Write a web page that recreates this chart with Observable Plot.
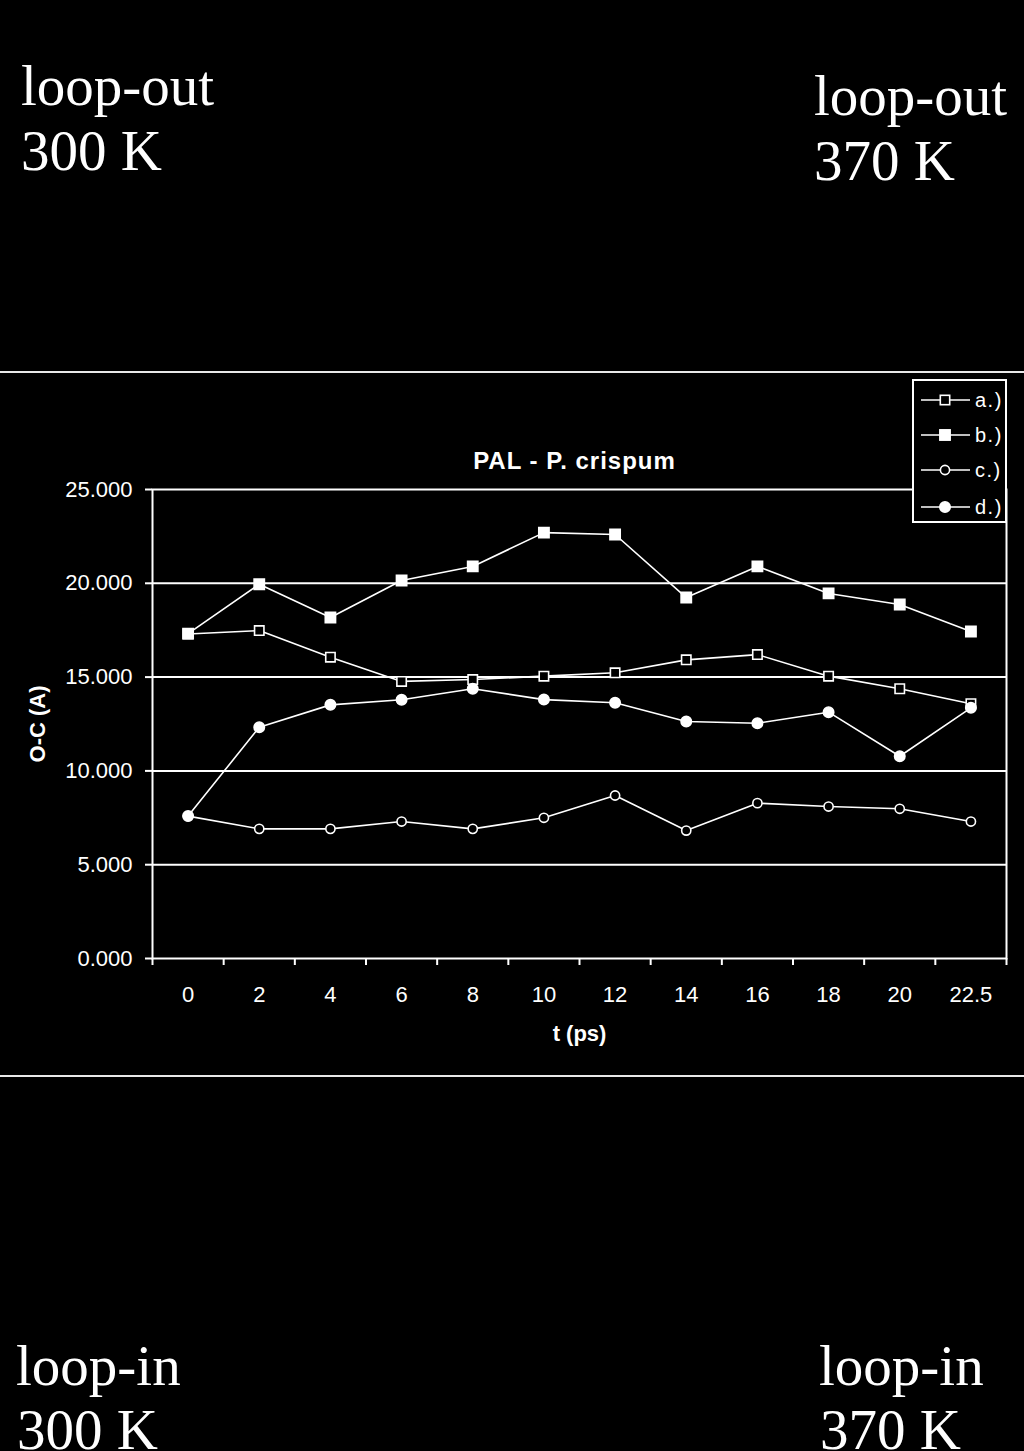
<!DOCTYPE html>
<html><head><meta charset="utf-8">
<script src="https://cdn.jsdelivr.net/npm/d3@7"></script>
<script src="https://cdn.jsdelivr.net/npm/@observablehq/plot@0.6"></script>
<style>
html,body{margin:0;padding:0;background:#000;}
#page{position:relative;width:1024px;height:1451px;overflow:hidden;background:#000;}
.big{position:absolute;font-family:"Liberation Serif","Times New Roman",serif;font-size:57px;line-height:57px;color:#fff;white-space:nowrap;}
.sep{position:absolute;left:0;width:1024px;height:2px;background:#e8e8e8;}
#chart{position:absolute;left:0;top:376px;}
#legend{position:absolute;left:912px;top:379px;}
</style></head><body>
<div id="page">
  <div class="big" style="left:21px;top:57px;">loop-out</div>
  <div class="big" style="left:21px;top:122px;">300 K</div>
  <div class="big" style="left:814px;top:67px;">loop-out</div>
  <div class="big" style="left:814px;top:132px;">370 K</div>
  <div class="sep" style="top:371px;"></div>
  <div id="chart"></div>
  <div id="legend"></div>
  <div class="sep" style="top:1075px;"></div>
  <div class="big" style="left:16px;top:1337px;">loop-in</div>
  <div class="big" style="left:17px;top:1401px;">300 K</div>
  <div class="big" style="left:819px;top:1337px;">loop-in</div>
  <div class="big" style="left:820px;top:1401px;">370 K</div>
</div>
<script>
const times = ["0","2","4","6","8","10","12","14","16","18","20","22.5"];
const seriesA = [17.30,17.48,16.06,14.77,14.87,15.05,15.23,15.92,16.20,15.05,14.38,13.58];
const seriesB = [17.32,19.95,18.18,20.15,20.90,22.70,22.60,19.24,20.90,19.46,18.87,17.43];
const seriesC = [7.59,6.91,6.91,7.30,6.91,7.50,8.69,6.82,8.28,8.10,7.98,7.30];
const seriesD = [7.59,12.33,13.52,13.79,14.38,13.80,13.63,12.63,12.54,13.13,10.78,13.36];
const seriesNames = ["a.)","b.)","c.)","d.)"];
const yTicks = [0,5,10,15,20,25];
const chartTitle = "PAL - P. crispum";
const xTitle = "t (ps)";
const yTitle = "O-C (A)";

const seriesValues = [seriesA, seriesB, seriesC, seriesD];
const rows = [];
seriesValues.forEach((vals, s) => vals.forEach((v, i) => rows.push({series: seriesNames[s], i, t: times[i], value: v})));

const styles = {
  "a.)": {symbol: "square", fill: "black", r: 5.3},
  "b.)": {symbol: "square", fill: "white", r: 5.8},
  "c.)": {symbol: "circle", fill: "black", r: 4.6},
  "d.)": {symbol: "circle", fill: "white", r: 5.2}
};

const xPos = d => d.i + 0.5;

const marks = [
  Plot.gridY(yTicks.slice(1, -1), {stroke: "white", strokeOpacity: 1, strokeWidth: 2}),
  Plot.frame({stroke: "white", strokeWidth: 2}),
  Plot.axisY(yTicks, {tickSize: 7, tickPadding: 13, tickFormat: d => d.toFixed(3), fontSize: 22, strokeWidth: 2, label: null}),
  Plot.axisX(times.map((t, i) => i + 0.5), {tickSize: 0, tickPadding: 28, tickFormat: d => times[Math.floor(d)], fontSize: 22, label: null}),
  Plot.axisX(d3.range(times.length + 1), {tickSize: 7, tickFormat: () => "", strokeWidth: 2, label: null}),
  Plot.line(rows, {x: xPos, y: "value", z: "series", stroke: "white", strokeWidth: 1.6})
];
for (const name of seriesNames) {
  const st = styles[name];
  marks.push(Plot.dot(rows.filter(d => d.series === name), {
    x: xPos, y: "value", symbol: st.symbol, r: st.r, fill: st.fill, stroke: "white", strokeWidth: 1.6
  }));
}
marks.push(
  Plot.text([chartTitle], {text: d => d, frameAnchor: "top", lineAnchor: "bottom", textAnchor: "middle", dy: -21, dx: -5, fontSize: 24, fontWeight: "bold", fill: "white"}),
  Plot.text([xTitle], {text: d => d, frameAnchor: "bottom", lineAnchor: "bottom", textAnchor: "middle", dy: 82, fontSize: 22, fontWeight: "bold", fill: "white"}),
  Plot.text([yTitle], {text: d => d, frameAnchor: "left", lineAnchor: "middle", textAnchor: "middle", rotate: -90, dx: -115, fontSize: 22, fontWeight: "bold", fill: "white"})
);

const chart = Plot.plot({
  width: 1024,
  height: 696,
  marginLeft: 152,
  marginRight: 18,
  marginTop: 113,
  marginBottom: 114,
  x: {type: "linear", domain: [0, times.length]},
  y: {domain: [0, 25]},
  style: {background: "black", color: "white", fontFamily: "'Liberation Sans', Arial, sans-serif", fontSize: "22px"},
  marks
});
document.getElementById("chart").appendChild(chart);
chart.querySelectorAll("text").forEach(t => {
  if (t.textContent === chartTitle) t.setAttribute("letter-spacing", "1");
});

// legend
const ns = "http://www.w3.org/2000/svg";
const lg = document.createElementNS(ns, "svg");
lg.setAttribute("width", 95); lg.setAttribute("height", 145);
const el = (tag, attrs, parent) => { const e = document.createElementNS(ns, tag); for (const k in attrs) e.setAttribute(k, attrs[k]); (parent || lg).appendChild(e); return e; };
el("rect", {x: 1, y: 1, width: 93, height: 142, fill: "black", stroke: "white", "stroke-width": 2});
const rowY = [21, 56, 91, 128];
seriesNames.forEach((name, k) => {
  const y = rowY[k], st = styles[name];
  el("line", {x1: 9, x2: 58, y1: y, y2: y, stroke: "white", "stroke-width": 1.6});
  if (st.symbol === "square") {
    const s = st.r * Math.sqrt(Math.PI);
    el("rect", {x: 33 - s / 2, y: y - s / 2, width: s, height: s, fill: st.fill, stroke: "white", "stroke-width": 1.6});
  } else {
    el("circle", {cx: 33, cy: y, r: st.r, fill: st.fill, stroke: "white", "stroke-width": 1.6});
  }
  const tx = el("text", {x: 63, y: y + 7, fill: "white", "font-size": 20, "letter-spacing": 1.5, "font-family": "'Liberation Sans', Arial, sans-serif"});
  tx.textContent = name;
});
document.getElementById("legend").appendChild(lg);
</script>
</body></html>
